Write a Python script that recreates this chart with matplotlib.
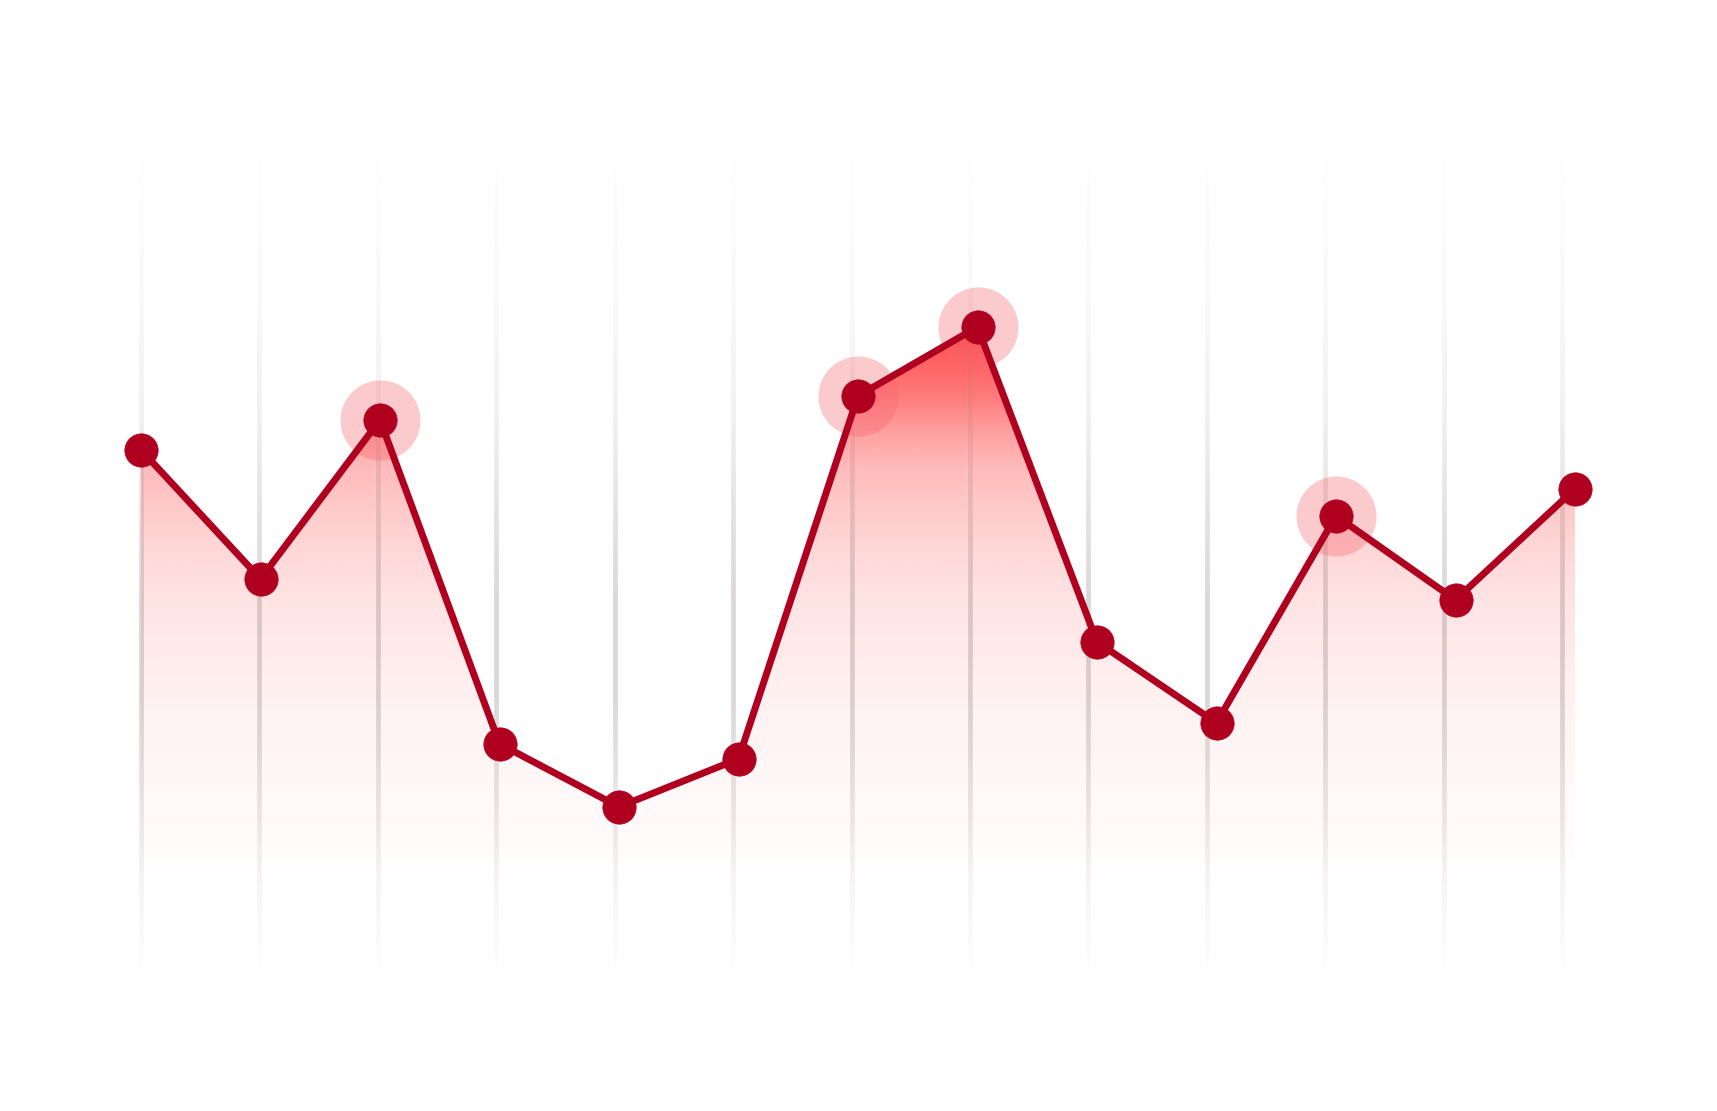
import numpy as np
import matplotlib
matplotlib.use("Agg")
from matplotlib import pyplot as plt
from matplotlib.collections import LineCollection
from matplotlib.colors import to_rgb

# data
values = [75, 53.5, 80, 26, 15.5, 23.5, 84, 95.5, 43, 29.5, 64, 50, 68.5]
highlighted = [2, 6, 7, 10]  # points drawn with a halo
x = np.arange(len(values))
vals = np.array(values, dtype=float)

LINE_COLOR = "#b00020"
FILL_COLOR = "#ff2a2a"
HALO_COLOR = "#f6676f"
GRID_COLOR = "#7c7070"


def alpha_profile(y, stops_y, stops_a):
    return np.interp(y, stops_y, stops_a)


fig = plt.figure(figsize=(17.17, 11.11), dpi=100)
ax = fig.add_axes([0, 0, 1, 1])
ax.axis("off")

# gradient fill under the line, clipped to the area polygon
baseline = -12
poly = ax.fill_between(x, vals, baseline, facecolor="none", edgecolor="none")
ys = np.linspace(baseline, 100, 500)
a = alpha_profile(ys, [0, 17, 35, 50, 60, 72, 78, 84, 95.5, 100],
                  [0, 0.03, 0.07, 0.13, 0.2, 0.32, 0.45, 0.62, 0.86, 0.9])
rgba = np.zeros((len(ys), 2, 4))
rgba[..., :3] = to_rgb(FILL_COLOR)
rgba[..., 3] = a[:, None]
img = ax.imshow(rgba, extent=[0, len(values) - 1, baseline, 100], origin="lower",
                aspect="auto", interpolation="bilinear", zorder=1)
img.set_clip_path(poly.get_paths()[0], transform=ax.transData)

# faded vertical grid lines
grid_x = np.arange(len(values)) * 0.991
gy = np.linspace(-12.5, 125, 300)
ga = alpha_profile(gy, [-12.5, 5, 16.7, 33.3, 50, 66.7, 83.3, 100, 125],
                   [0, 0.08, 0.17, 0.28, 0.28, 0.19, 0.09, 0.04, 0])
gr = to_rgb(GRID_COLOR)
for gx in grid_x:
    segs = [[(gx, gy[i]), (gx, gy[i + 1])] for i in range(len(gy) - 1)]
    cols = [(*gr, (ga[i] + ga[i + 1]) / 2) for i in range(len(gy) - 1)]
    ax.add_collection(LineCollection(segs, colors=cols, linewidths=3.4,
                                     capstyle="butt", zorder=2))

# halos around the highlighted points
ax.plot(x[highlighted], vals[highlighted], "o", ms=57.6, color=HALO_COLOR, alpha=0.35,
        mec="none", zorder=3)

ax.plot(x, vals, color=LINE_COLOR, lw=5, solid_joinstyle="miter", zorder=4)
ax.plot(x, vals, "o", ms=24, color=LINE_COLOR, mec=LINE_COLOR, mew=0.5, zorder=5)

ax.set_xlim(-141 / 119.5, 12 + 142 / 119.5)
ax.set_ylim(-35.2, 150)

fig.savefig("out.png", dpi=100, facecolor="white")
